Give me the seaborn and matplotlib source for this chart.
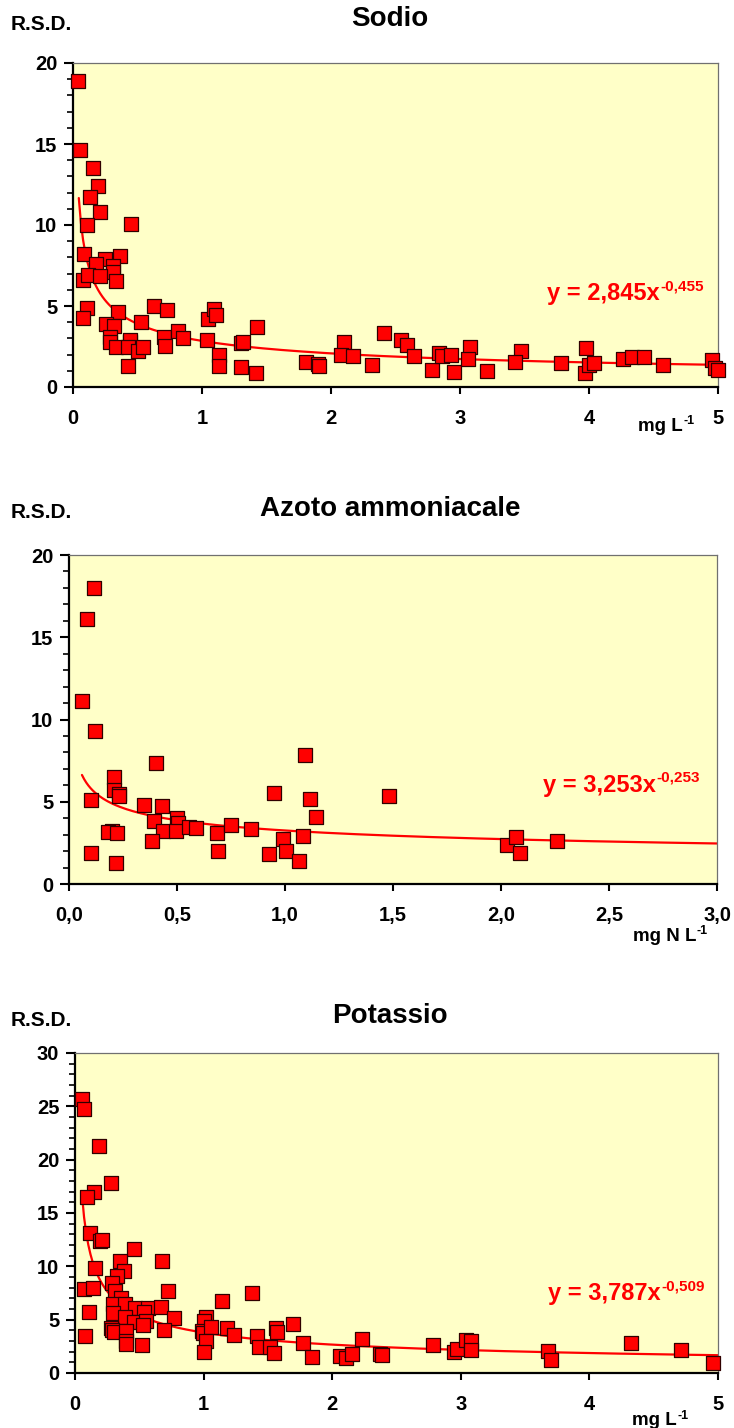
import numpy as np
import pandas as pd
import seaborn as sns
import matplotlib.pyplot as plt
from matplotlib.ticker import MultipleLocator, FuncFormatter

# --- Sodio ---
na_x = [0.041, 0.052, 0.155, 0.19, 0.134, 0.21, 0.108, 0.45, 0.085, 0.367, 0.25, 0.176, 0.31, 0.31,
        0.078, 0.119, 0.207, 0.33, 0.108, 0.078, 0.35, 0.628, 0.73, 0.53, 0.256, 0.32, 0.29, 0.287,
        0.33, 0.44, 0.445, 0.43, 0.50, 0.54, 0.43, 0.705, 0.716, 0.817, 0.85, 1.04, 1.05, 1.096,
        1.11, 1.13, 1.13, 1.305, 1.32, 1.30, 1.42, 1.43, 1.81, 1.90, 1.91, 2.10, 2.08, 2.17, 2.32,
        2.41, 2.54, 2.59, 2.64, 2.78, 2.84, 2.86, 2.93, 2.95, 3.08, 3.06, 3.21, 3.47, 3.43, 3.78,
        3.98, 3.97, 4.0, 4.04, 4.26, 4.33, 4.43, 4.57, 4.95, 4.98, 5.0]
na_y = [18.9, 14.6, 13.5, 12.4, 11.7, 10.8, 10.0, 10.05, 8.2, 8.1, 7.9, 7.6, 7.45, 7.1,
        6.6, 6.9, 6.85, 6.55, 4.9, 4.25, 4.6, 5.0, 4.75, 4.0, 3.87, 3.75, 3.1, 2.8,
        2.45, 2.78, 2.9, 2.5, 2.2, 2.5, 1.3, 3.1, 2.55, 3.45, 3.05, 2.9, 4.2, 4.8,
        4.45, 1.95, 1.3, 2.7, 2.76, 1.25, 0.85, 3.7, 1.55, 1.4, 1.3, 2.75, 2.0, 1.9, 1.34,
        3.35, 2.92, 2.57, 1.91, 1.07, 2.12, 1.91, 1.95, 0.9, 2.45, 1.71, 1.0, 2.22, 1.52, 1.48,
        2.43, 0.88, 1.34, 1.5, 1.75, 1.83, 1.85, 1.34, 1.67, 1.15, 1.05]

# --- Azoto ammoniacale ---
nh_x = [0.116, 0.085, 0.06, 0.122, 0.404, 0.21, 0.207, 0.23, 0.23, 0.10, 0.349, 0.432, 0.392,
        0.5, 0.506, 0.434, 0.494, 0.554, 0.588, 0.198, 0.182, 0.22, 0.383, 0.103, 0.216, 0.684,
        0.691, 0.748, 0.844, 0.924, 0.951, 0.99, 1.005, 1.066, 1.082, 1.091, 1.116, 1.144, 1.481,
        2.03, 2.07, 2.088, 2.258]
nh_y = [17.97, 16.1, 11.1, 9.3, 7.38, 6.5, 5.7, 5.5, 5.35, 5.1, 4.82, 4.74, 3.8,
        4.0, 3.7, 3.2, 3.2, 3.49, 3.38, 3.2, 3.18, 3.08, 2.59, 1.86, 1.3, 3.08,
        2.03, 3.6, 3.36, 1.82, 5.55, 2.72, 2.03, 1.42, 2.92, 7.84, 5.17, 4.09, 5.35,
        2.35, 2.84, 1.86, 2.61]

# --- Potassio ---
k_x = [0.054, 0.07, 0.187, 0.28, 0.148, 0.096, 0.114, 0.194, 0.213, 0.459, 0.353, 0.677, 0.384,
       0.153, 0.324, 0.285, 0.308, 0.07, 0.137, 0.723, 1.379, 0.355, 1.146, 0.295, 0.389, 0.464,
       0.57, 0.666, 0.106, 0.298, 0.534, 0.391, 0.772, 1.019, 1.006, 0.459, 0.55, 0.078, 0.28,
       0.288, 0.306, 0.526, 0.40, 0.689, 0.40, 0.399, 0.521, 0.988, 0.998, 1.06, 1.021, 1.0,
       1.179, 1.239, 1.418, 1.433, 1.52, 1.545, 1.563, 1.573, 1.693, 1.773, 1.84, 2.06, 2.11,
       2.157, 2.23, 2.37, 2.39, 2.78, 2.95, 2.97, 3.04, 3.08, 3.08, 3.68, 3.70, 4.32, 4.71, 4.96]
k_y = [25.66, 24.78, 21.3, 17.8, 17.0, 16.5, 13.15, 12.4, 12.5, 11.6, 10.5, 10.47, 9.6,
       9.8, 9.06, 8.44, 7.69, 7.9, 7.97, 7.72, 7.53, 7.0, 6.78, 6.44, 6.47, 6.13,
       6.13, 6.16, 5.75, 5.66, 5.75, 5.28, 5.16, 5.22, 4.84, 4.81, 4.88, 3.47, 4.25,
       4.03, 3.84, 4.47, 3.97, 4.0, 3.03, 2.72, 2.63, 3.94, 3.78, 4.34, 2.97, 2.0,
       4.19, 3.53, 3.47, 2.4, 2.4, 1.9, 4.25, 3.81, 4.59, 2.78, 1.47, 1.59, 1.41,
       1.78, 3.19, 1.75, 1.66, 2.63, 1.97, 2.22, 3.09, 3.0, 2.16, 2.03, 1.22, 2.78, 2.16, 0.94]

# power-law trend coefficients (as printed on the chart)
na_fit = (2.845, -0.455)
nh_fit = (3.253, -0.253)
k_fit = (3.787, -0.509)

sns.set_style('white')
plt.rcParams['font.family'] = ['Liberation Sans', 'DejaVu Sans']
plt.rcParams['font.weight'] = 'bold'
for key in ['text.color', 'axes.labelcolor', 'xtick.color', 'ytick.color']:
    plt.rcParams[key] = 'black'

bg = '#FFFFC8'
red = '#FF0000'

fig = plt.figure(figsize=(7.34, 14.28), dpi=100)


def text_sup(ax, x, y, main, sup, size, sup_size, rise, color='black'):
    # main text + superscript placed just after it
    t = ax.text(x, y, main, transform=ax.transAxes, color=color, fontsize=size,
                fontweight='bold', va='baseline', ha='left', zorder=5)
    ax.annotate(sup, xy=(1, 0), xycoords=t, xytext=(0.3, rise), textcoords='offset points',
                color=color, fontsize=sup_size, fontweight='bold', va='baseline', ha='left',
                annotation_clip=False, zorder=5)


panels = [
    # title, x, y, fit, xmax, ymax, axes rect, eq main, eq sup, unit main, fit start,
    # eq pos, unit pos, title y px, RSD y px
    ('Sodio', na_x, na_y, na_fit, 5, 20, [73 / 734, 1 - 387 / 1428, 645 / 734, 324 / 1428],
     'y = 2,845x', '-0,455', 'mg L', 0.045, (0.735, 0.2685), (0.876, -0.135), 19, 24),
    ('Azoto ammoniacale', nh_x, nh_y, nh_fit, 3, 20, [69 / 734, 1 - 884 / 1428, 648 / 734, 329 / 1428],
     'y = 3,253x', '-0,253', 'mg N L', 0.06, (0.87, -0.172), (0.87, -0.172), 509, 512),
    ('Potassio', k_x, k_y, k_fit, 5, 30, [75 / 734, 1 - 1373 / 1428, 643 / 734, 320 / 1428],
     'y = 3,787x', '-0,509', 'mg L', 0.054, (0.7356, 0.228), (0.866, -0.163), 1016, 1020),
]
# equation position of the middle panel
panels[1] = panels[1][:11] + ((0.7315, 0.2805),) + panels[1][12:]

for (title, xs, ys, fit, xmax, ymax, rect, eq, eqsup, unit, x0,
     eqpos, upos, ty, ry) in panels:
    ax = fig.add_axes(rect)
    ax.set_facecolor(bg)
    df = pd.DataFrame({'x': xs, 'y': ys})
    sns.scatterplot(data=df, x='x', y='y', ax=ax, marker='s', s=95, color=red,
                    edgecolor='#300000', linewidth=0.9, zorder=3, clip_on=False)
    # trend line
    xx = np.linspace(x0, xmax, 300)
    trend = pd.DataFrame({'x': xx, 'y': fit[0] * xx ** fit[1]})
    sns.lineplot(data=trend, x='x', y='y', ax=ax, color=red, linewidth=1.6, zorder=2)

    ax.set_xlim(0, xmax)
    ax.set_ylim(0, ymax)
    ax.set_xlabel('')
    ax.set_ylabel('')
    ax.xaxis.set_major_locator(MultipleLocator(0.5 if xmax == 3 else 1))
    ax.yaxis.set_major_locator(MultipleLocator(5))
    ax.yaxis.set_minor_locator(MultipleLocator(1))
    if xmax == 3:
        ax.xaxis.set_major_formatter(FuncFormatter(lambda v, p: f'{v:.1f}'.replace('.', ',')))
    else:
        ax.xaxis.set_major_formatter(FuncFormatter(lambda v, p: f'{v:.0f}'))

    for side in ['left', 'bottom']:
        ax.spines[side].set_color('black')
        ax.spines[side].set_linewidth(1.6)
    for side in ['top', 'right']:
        ax.spines[side].set_color('#707070')
        ax.spines[side].set_linewidth(0.9)

    ax.tick_params(axis='x', which='major', direction='out', length=5, width=1.5,
                   pad=11, labelsize=14.5, bottom=True)
    ax.tick_params(axis='y', which='major', direction='out', length=6.3, width=1.5,
                   pad=5, labelsize=14.5, left=True)
    ax.tick_params(axis='y', which='minor', direction='out', length=4.5, width=1.2, left=True)
    for lab in ax.get_xticklabels() + ax.get_yticklabels():
        lab.set_fontweight('bold')

    text_sup(ax, eqpos[0], eqpos[1], eq, eqsup, 17, 11, 10.8, color=red)
    text_sup(ax, upos[0], upos[1], unit, '-1', 13.5, 9, 7.5)

    fig.text(390 / 734, 1 - ty / 1428, title, ha='center', va='center', fontsize=20,
             fontweight='bold')
    fig.text(11 / 734, 1 - ry / 1428, 'R.S.D.', ha='left', va='center', fontsize=15,
             fontweight='bold')

fig.savefig('out.png', dpi=100, facecolor='white')
